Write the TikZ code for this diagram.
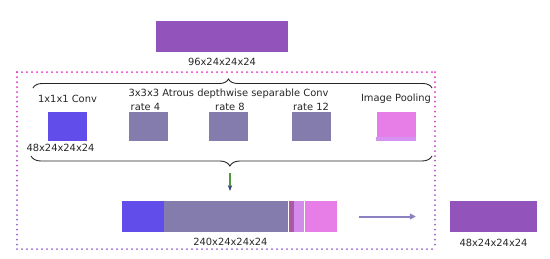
\documentclass[tikz,border=0pt]{standalone}
\usepackage{fontspec}
\setmainfont{DejaVu Sans}
\usetikzlibrary{positioning,arrows.meta,decorations.pathreplacing}
\definecolor{mergeviolet}{RGB}{146,84,186}
\definecolor{convblue}{RGB}{96,77,234}
\definecolor{atrousgray}{RGB}{133,124,174}
\definecolor{poolpink}{RGB}{231,126,232}
\definecolor{poolstrip}{RGB}{214,146,240}
\definecolor{catedge}{RGB}{172,88,166}
\definecolor{catfade}{RGB}{212,140,235}
\definecolor{dotmag}{RGB}{228,45,200}
\definecolor{dotpurple}{RGB}{150,95,210}
\definecolor{flowpurple}{RGB}{140,128,194}
\definecolor{flowgreen}{RGB}{80,150,60}
\definecolor{flowhead}{RGB}{60,62,130}
\tikzset{
  fmap/.style={inner sep=0pt, minimum width=39pt, minimum height=29pt},
  bar/.style={inner sep=0pt, minimum height=31pt},
  tlabel/.style={font=\fontsize{9.9}{12}\selectfont, inner sep=0pt, text=black!85},
  framedot/.style={line width=2pt, line cap=round, dash pattern=on 0pt off 5pt},
  bracket/.style={decorate, line width=0.9pt, black!85},
}

\begin{document}
\begin{tikzpicture}[x=1pt,y=-1pt]
  \useasboundingbox (0,0) rectangle (550,258);
  % ====== giris ======
  \node[bar, fill=mergeviolet, minimum width=132pt] (inp) at (222,36.5) {};
  \node[tlabel, below=6pt of inp] (inpdim) {96x24x24x24};
  % ====== noktali cerceve ======
  \draw[framedot, dotmag] (17,72) -- (435,72);
  \draw[framedot, dotpurple] (17,249) -- (435,249);
  \foreach \i in {0,...,5}{
    \pgfmathsetmacro{\p}{100-20*\i}
    \draw[framedot, dotmag!\p!dotpurple] (17,72+29.5*\i) -- (17,72+29.5*\i+29.5);
    \draw[framedot, dotmag!\p!dotpurple] (435,72+29.5*\i) -- (435,72+29.5*\i+29.5);
  }
  % ====== ust parantez ======
  \draw[bracket, decoration={brace, amplitude=9pt, aspect=0.49}] (33,88) -- (432,88);
  % ====== dallar ======
  \node[fmap, fill=convblue]   (conv) at (67.5,126.5) {};
  \node[fmap, fill=atrousgray] (rfour) at (148.5,126.5) {};
  \node[fmap, fill=atrousgray] (reight) at (228.5,126.5) {};
  \node[fmap, fill=atrousgray] (rtwelve) at (311,126.5) {};
  \node[fmap, fill=poolpink]   (pool) at (396,126.5) {};
  \fill[poolstrip] (pool.south west) rectangle ([yshift=4.5pt]pool.south east);
  \node[tlabel, above=9pt of conv] (convlbl) {1x1x1 Conv};
  \node[tlabel, above=1pt of rfour, xshift=-3pt] (rfourlbl) {rate 4};
  \node[tlabel, above=1pt of reight, xshift=1.5pt] (reightlbl) {rate 8};
  \node[tlabel, above=1pt of rtwelve] (rtwelvelbl) {rate 12};
  \node[tlabel, above=8pt of pool] (poollbl) {Image Pooling};
  \node[tlabel, anchor=base] (atrouslbl) at (228.5,96.6) {3x3x3 Atrous depthwise separable Conv};
  \node[tlabel, below=3pt of conv, xshift=-7pt] (convdim) {48x24x24x24};
  % ====== alt parantez ======
  \draw[bracket, decoration={brace, mirror, amplitude=10pt, aspect=0.496}] (31,156) -- (432,156);
  \coordinate (brtip) at (230,166);
  % ====== birlestirme ======
  \node[bar, fill=convblue, minimum width=42pt] (catconv) at (143,216.5) {};
  \node[bar, fill=atrousgray, minimum width=124pt, right=0pt of catconv] (catatrous) {};
  \node[bar, fill=catedge, minimum width=5pt, right=0pt of catatrous] (catedge) {};
  \node[bar, fill=catfade, minimum width=10pt, right=0pt of catedge] (catfade) {};
  \node[bar, fill=poolpink, minimum width=32pt, right=0pt of catfade] (catpool) {};
  \coordinate (cattop) at (230,201);
  \node[tlabel, below=6pt of catatrous, xshift=4pt] (catdim) {240x24x24x24};
  % ====== cikis ======
  \node[bar, fill=mergeviolet, minimum width=87pt] (out) at (493.5,216.5) {};
  \node[tlabel, below=7pt of out] (outdim) {48x24x24x24};
  % ====== oklar ======
  \draw[flowgreen, line width=1.5pt, shorten <=7pt, shorten >=10pt,
        -{Stealth[flowhead, length=6pt, width=4.5pt]}] (brtip) -- (cattop);
  \draw[flowpurple, line width=2pt, shorten <=22pt, shorten >=34pt,
        -{Triangle[length=6pt, width=6pt]}] (catpool.east) -- (out.west);
\end{tikzpicture}
\end{document}
